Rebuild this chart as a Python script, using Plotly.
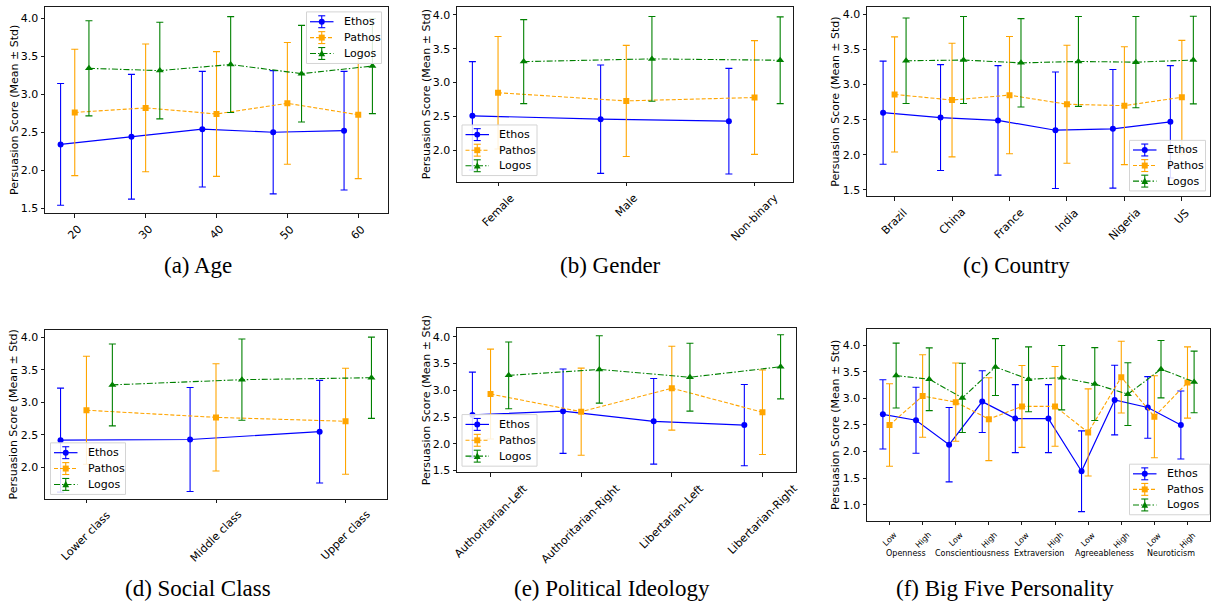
import plotly.graph_objects as go

# ---------------- data ----------------
SERIES = ["Ethos", "Pathos", "Logos"]

AGE_GROUPS = [20, 30, 40, 50, 60]
age_ethos_mean = [2.34, 2.44, 2.54, 2.50, 2.52]
age_ethos_std = [0.80, 0.82, 0.76, 0.81, 0.78]
age_pathos_mean = [2.76, 2.82, 2.74, 2.88, 2.73]
age_pathos_std = [0.83, 0.84, 0.82, 0.80, 0.84]
age_logos_mean = [3.34, 3.31, 3.39, 3.27, 3.37]
age_logos_std = [0.625, 0.635, 0.63, 0.635, 0.625]

GENDERS = ["Female", "Male", "Non-binary"]
gender_ethos_mean = [2.51, 2.46, 2.43]
gender_ethos_std = [0.80, 0.80, 0.78]
gender_pathos_mean = [2.85, 2.73, 2.78]
gender_pathos_std = [0.83, 0.82, 0.84]
gender_logos_mean = [3.31, 3.35, 3.33]
gender_logos_std = [0.62, 0.625, 0.64]

COUNTRIES = ["Brazil", "China", "France", "India", "Nigeria", "US"]
country_ethos_mean = [2.60, 2.53, 2.49, 2.35, 2.37, 2.47]
country_ethos_std = [0.735, 0.755, 0.78, 0.83, 0.845, 0.80]
country_pathos_mean = [2.86, 2.78, 2.85, 2.72, 2.70, 2.82]
country_pathos_std = [0.82, 0.81, 0.835, 0.84, 0.84, 0.81]
country_logos_mean = [3.34, 3.35, 3.31, 3.33, 3.32, 3.35]
country_logos_std = [0.61, 0.62, 0.63, 0.64, 0.65, 0.625]

CLASSES = ["Lower class", "Middle class", "Upper class"]
class_ethos_mean = [2.42, 2.43, 2.55]
class_ethos_std = [0.80, 0.80, 0.79]
class_pathos_mean = [2.88, 2.77, 2.71]
class_pathos_std = [0.83, 0.825, 0.815]
class_logos_mean = [3.27, 3.35, 3.38]
class_logos_std = [0.63, 0.625, 0.625]

IDEOLOGIES = ["Authoritarian-Left", "Authoritarian-Right", "Libertarian-Left", "Libertarian-Right"]
ideology_ethos_mean = [2.54, 2.61, 2.42, 2.35]
ideology_ethos_std = [0.80, 0.79, 0.80, 0.76]
ideology_pathos_mean = [2.93, 2.60, 3.04, 2.59]
ideology_pathos_std = [0.84, 0.815, 0.785, 0.79]
ideology_logos_mean = [3.28, 3.39, 3.245, 3.44]
ideology_logos_std = [0.625, 0.63, 0.635, 0.60]

TRAITS = ["Openness", "Conscientiousness", "Extraversion", "Agreeableness", "Neuroticism"]
LEVELS = ["Low", "High"]
big5_ethos_mean = [2.70, 2.59, 2.13, 2.94, 2.62, 2.62, 1.63, 2.97, 2.83, 2.50]
big5_ethos_std = [0.65, 0.62, 0.70, 0.58, 0.64, 0.64, 0.76, 0.655, 0.58, 0.64]
big5_pathos_mean = [2.50, 3.045, 2.93, 2.61, 2.85, 2.85, 2.36, 3.40, 2.655, 3.30]
big5_pathos_std = [0.775, 0.775, 0.735, 0.78, 0.77, 0.75, 0.82, 0.675, 0.77, 0.67]
big5_logos_mean = [3.43, 3.36, 3.01, 3.59, 3.36, 3.39, 3.27, 3.08, 3.55, 3.31]
big5_logos_std = [0.61, 0.59, 0.65, 0.535, 0.61, 0.605, 0.685, 0.59, 0.54, 0.58]

CAPTIONS = ["(a) Age", "(b) Gender", "(c) Country",
            "(d) Social Class", "(e) Political Ideology", "(f) Big Five Personality"]

# ---------------- styling ----------------
W, H = 1211, 612
STYLE = {
    "Ethos": dict(color="#0000ff", dash="solid", symbol="circle", size=6, lw=1.2),
    "Pathos": dict(color="#ffa500", dash="4px,2px", symbol="square", size=6, lw=1.1),
    "Logos": dict(color="#008000", dash="6px,2px,1.5px,2px", symbol="triangle-up", size=7, lw=1.1),
}
SANS = "DejaVu Sans"
SERIF = "Liberation Serif"
YTITLE = "Persuasion Score (Mean ± Std)"


def px(x):
    return x / W


def py(y):
    return 1 - y / H


big5_ticks = [lvl for _ in TRAITS for lvl in LEVELS]

# box = (left, right, top, bottom) of each plot area in pixels
# legend = (left, top, width, height) of each legend frame in pixels
panels = [
    dict(x=AGE_GROUPS, ticktext=[str(a) for a in AGE_GROUPS], off=2.0,
         data=[(age_ethos_mean, age_ethos_std), (age_pathos_mean, age_pathos_std),
               (age_logos_mean, age_logos_std)],
         box=(45, 388, 7, 215), xr=[15.8, 64.2], yr=[1.435, 4.147],
         yt=[1.5, 2.0, 2.5, 3.0, 3.5, 4.0], legend=(306.5, 12, 75, 52), cap=198),
    dict(x=list(range(len(GENDERS))), ticktext=GENDERS, off=0.2,
         data=[(gender_ethos_mean, gender_ethos_std), (gender_pathos_mean, gender_pathos_std),
               (gender_logos_mean, gender_logos_std)],
         box=(457, 793, 7, 183), xr=[-0.32, 2.30], yr=[1.54, 4.117],
         yt=[2.0, 2.5, 3.0, 3.5, 4.0], legend=(462, 126, 75, 51), cap=610),
    dict(x=list(range(len(COUNTRIES))), ticktext=COUNTRIES, off=0.2,
         data=[(country_ethos_mean, country_ethos_std), (country_pathos_mean, country_pathos_std),
               (country_logos_mean, country_logos_std)],
         box=(867, 1210, 7, 198), xr=[-0.48, 5.49], yr=[1.407, 4.107],
         yt=[1.5, 2.0, 2.5, 3.0, 3.5, 4.0], legend=(1129.5, 141.5, 76, 51), cap=1016),
    dict(x=list(range(len(CLASSES))), ticktext=CLASSES, off=0.2,
         data=[(class_ethos_mean, class_ethos_std), (class_pathos_mean, class_pathos_std),
               (class_logos_mean, class_logos_std)],
         box=(45, 387, 333, 503), xr=[-0.32, 2.32], yr=[1.516, 4.11],
         yt=[2.0, 2.5, 3.0, 3.5, 4.0], legend=(50.5, 446.5, 75, 52), cap=198),
    dict(x=list(range(len(IDEOLOGIES))), ticktext=IDEOLOGIES, off=0.2,
         data=[(ideology_ethos_mean, ideology_ethos_std), (ideology_pathos_mean, ideology_pathos_std),
               (ideology_logos_mean, ideology_logos_std)],
         box=(457, 796, 331, 476), xr=[-0.37, 3.37], yr=[1.47, 4.16],
         yt=[1.5, 2.0, 2.5, 3.0, 3.5, 4.0], legend=(462, 418, 75, 52), cap=612),
    dict(x=list(range(len(big5_ticks))), ticktext=big5_ticks, off=0.2,
         data=[(big5_ethos_mean, big5_ethos_std), (big5_pathos_mean, big5_pathos_std),
               (big5_logos_mean, big5_logos_std)],
         box=(867, 1210, 332, 525), xr=[-0.68, 9.68], yr=[0.70, 4.30],
         yt=[1.0, 1.5, 2.0, 2.5, 3.0, 3.5, 4.0], legend=(1129.5, 468, 80, 51), cap=1005),
]

fig = go.Figure()
layout = dict(width=W, height=H, margin=dict(l=0, r=0, t=0, b=0),
              paper_bgcolor="white", plot_bgcolor="white", showlegend=False,
              font=dict(family=SANS, size=11, color="#000000"))
annotations = []
shapes = []


def legend_box(left, top, width, height):
    """Framed legend with line, marker and error-bar glyphs for each series."""
    shapes.append(dict(type="rect", xref="paper", yref="paper",
                       x0=px(left), x1=px(left + width), y0=py(top + height), y1=py(top),
                       line=dict(color="#d4d4d4", width=1),
                       fillcolor="rgba(255,255,255,0.85)", layer="above"))
    step = height / 3.25
    for i, name in enumerate(SERIES):
        st = STYLE[name]
        cy = top + step * (0.62 + i)
        hx0, hx1 = left + 3.5, left + 27
        cx = (hx0 + hx1) / 2
        shapes.append(dict(type="line", xref="paper", yref="paper",
                           x0=px(hx0), x1=px(hx1), y0=py(cy), y1=py(cy), layer="above",
                           line=dict(color=st["color"], width=st["lw"], dash=st["dash"])))
        # error bar glyph
        shapes.append(dict(type="line", xref="paper", yref="paper",
                           x0=px(cx), x1=px(cx), y0=py(cy - 6), y1=py(cy + 6), layer="above",
                           line=dict(color=st["color"], width=1.1)))
        for dy in (-6, 6):
            shapes.append(dict(type="line", xref="paper", yref="paper",
                               x0=px(cx - 3.5), x1=px(cx + 3.5), y0=py(cy + dy), y1=py(cy + dy),
                               layer="above", line=dict(color=st["color"], width=1.1)))
        r = 3.0
        if st["symbol"] == "circle":
            shapes.append(dict(type="circle", xref="paper", yref="paper",
                               x0=px(cx - r), x1=px(cx + r), y0=py(cy + r), y1=py(cy - r),
                               fillcolor=st["color"], line=dict(width=0), layer="above"))
        elif st["symbol"] == "square":
            shapes.append(dict(type="rect", xref="paper", yref="paper",
                               x0=px(cx - r), x1=px(cx + r), y0=py(cy + r), y1=py(cy - r),
                               fillcolor=st["color"], line=dict(width=0), layer="above"))
        else:
            path = (f"M {px(cx - 3.4)},{py(cy + 2.8)} L {px(cx + 3.4)},{py(cy + 2.8)} "
                    f"L {px(cx)},{py(cy - 3.6)} Z")
            shapes.append(dict(type="path", xref="paper", yref="paper", path=path,
                               fillcolor=st["color"], line=dict(width=0), layer="above"))
        annotations.append(dict(x=px(left + 35), y=py(cy), xref="paper", yref="paper",
                                text=name, showarrow=False, xanchor="left", yanchor="middle",
                                font=dict(size=11, family=SANS, color="#000000")))


for k, p in enumerate(panels, start=1):
    sfx = "" if k == 1 else str(k)
    x0, x1, y0, y1 = p["box"]
    for j, (name, (mean, std)) in enumerate(zip(SERIES, p["data"])):
        st = STYLE[name]
        shift = (j - 1) * p["off"]
        fig.add_trace(go.Scatter(
            x=[v + shift for v in p["x"]], y=mean, name=name,
            mode="lines+markers",
            line=dict(color=st["color"], width=st["lw"], dash=st["dash"]),
            marker=dict(symbol=st["symbol"], size=st["size"], color=st["color"],
                        line=dict(width=0)),
            error_y=dict(type="data", array=std, visible=True, color=st["color"],
                         thickness=1.1, width=3.5),
            xaxis="x" + sfx, yaxis="y" + sfx,
        ))

    common = dict(showline=True, mirror=True, linecolor="#1a1a1a", linewidth=1,
                  ticks="outside", ticklen=3.5, tickwidth=1, tickcolor="#1a1a1a",
                  showgrid=False, zeroline=False, fixedrange=True)
    layout["xaxis" + sfx] = dict(domain=[px(x0), px(x1)], range=p["xr"],
                                 tickmode="array", tickvals=p["x"], showticklabels=False,
                                 anchor="y" + sfx, **common)
    layout["yaxis" + sfx] = dict(domain=[py(y1), py(y0)], range=p["yr"],
                                 tickmode="array", tickvals=p["yt"],
                                 ticktext=[f"{v:.1f}" for v in p["yt"]],
                                 tickfont=dict(size=11, family=SANS),
                                 anchor="x" + sfx, **common)

    # y-axis title
    annotations.append(dict(x=px(x0 - 31), y=py((y0 + y1) / 2), xref="paper", yref="paper",
                            text=YTITLE, showarrow=False, textangle=-90,
                            xanchor="center", yanchor="middle",
                            font=dict(size=11, family=SANS, color="#000000")))

    # rotated category labels centred under each tick
    fsize = 8 if k == 6 else 11
    for xv, label in zip(p["x"], p["ticktext"]):
        annotations.append(dict(x=xv, y=py(y1 + 7), xref="x" + sfx, yref="paper",
                                text=label, showarrow=False, textangle=-45,
                                xanchor="center", yanchor="top",
                                font=dict(size=fsize, family=SANS, color="#000000")))

    legend_box(*p["legend"])

    # sub-figure caption
    cap_y = 268 if k <= 3 else 593
    annotations.append(dict(x=px(p["cap"]), y=py(cap_y), xref="paper", yref="paper",
                            text=CAPTIONS[k - 1], showarrow=False,
                            xanchor="center", yanchor="middle",
                            font=dict(size=23, family=SERIF, color="#000000")))

# trait names beneath the Low/High pairs of the personality panel
for i, trait in enumerate(TRAITS):
    annotations.append(dict(x=2 * i + 0.5, y=py(558), xref="x6", yref="paper",
                            text=trait, showarrow=False, xanchor="center", yanchor="middle",
                            font=dict(size=8, family=SANS, color="#000000")))

layout["annotations"] = annotations
layout["shapes"] = shapes
fig.update_layout(**layout)
fig.write_html("out.html")
